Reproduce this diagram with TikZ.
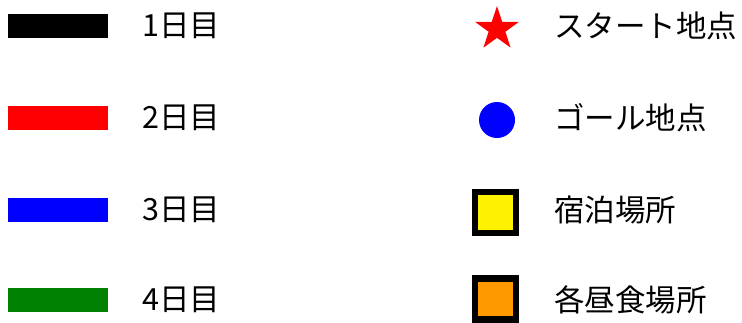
\documentclass[tikz,border=0pt]{standalone}
\usepackage{fontspec}
\setmainfont{Noto Sans CJK JP}
\usetikzlibrary{shapes.geometric}
\definecolor{dkgreen}{RGB}{0,128,0}
\definecolor{legorange}{RGB}{255,153,0}
\begin{document}
\begin{tikzpicture}[x=1pt,y=-1pt,
  bar/.style={minimum width=100pt,minimum height=24pt,inner sep=0pt,draw=none},
  lab/.style={anchor=west,font=\fontsize{30.5}{33}\selectfont,inner sep=0pt},
  box/.style={draw=black,line width=6.5pt,minimum size=41pt,inner sep=0pt}]
\useasboundingbox (0,0) rectangle (742,322);
\node[bar,fill=black] (b1) at (58,26) {};
\node[bar,fill=red] (b2) at (58,118) {};
\node[bar,fill=blue] (b3) at (58,210) {};
\node[bar,fill=dkgreen] (b4) at (58,300) {};
\node[lab] (l1) at (142,26) {1日目};
\node[lab] (l2) at (142,118) {2日目};
\node[lab] (l3) at (142,210) {3日目};
\node[lab] (l4) at (142,300) {4日目};
\node[star,star points=5,star point ratio=2.6,fill=red,minimum size=46pt,inner sep=0pt,outer sep=0pt] (s) at (497,29) {};
\node[circle,fill=blue,minimum size=36pt,inner sep=0pt] (c) at (497,120) {};
\node[box,fill=yellow] (y) at (495.5,212.5) {};
\node[box,fill=legorange] (o) at (495.5,299) {};
\node[lab] (r1) at (554,26) {スタート地点};
\node[lab] (r2) at (554,118) {ゴール地点};
\node[lab] (r3) at (554,210) {宿泊場所};
\node[lab] (r4) at (554,300) {各昼食場所};
\end{tikzpicture}
\end{document}
